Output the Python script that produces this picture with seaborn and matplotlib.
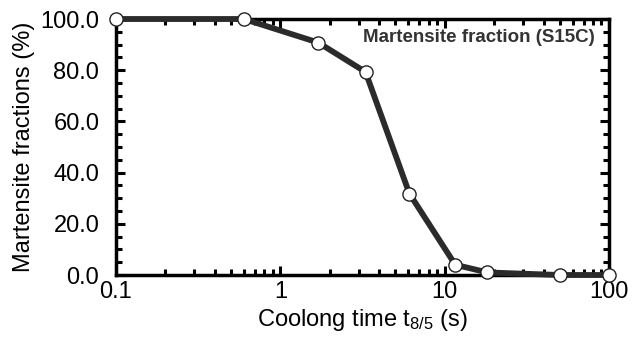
import matplotlib

matplotlib.use("Agg")

import matplotlib.pyplot as plt
import numpy as np
import pandas as pd
import seaborn as sns
from matplotlib.ticker import FixedLocator, LogLocator, NullFormatter, MultipleLocator

# Values
cooling_time = [0.1, 0.6, 1.7, 3.3, 6.1, 11.6, 18.2, 50.0, 100.0]
martensite_pct = [100.0, 100.0, 90.8, 79.3, 31.8, 4.0, 1.0, 0.0, 0.0]
x_ticks = [0.1, 1, 10, 100]
x_tick_labels = ["0.1", "1", "10", "100"]
y_ticks = [0, 20, 40, 60, 80, 100]
y_tick_labels = ["0.0", "20.0", "40.0", "60.0", "80.0", "100.0"]

sns.set_style("ticks")
plt.rcParams["font.family"] = ["Liberation Sans", "DejaVu Sans"]
plt.rcParams["mathtext.fontset"] = "custom"
plt.rcParams["mathtext.rm"] = "Liberation Sans"
plt.rcParams["mathtext.it"] = "Liberation Sans"

df = pd.DataFrame({"t": cooling_time, "m": martensite_pct})

fig = plt.figure(figsize=(6.37, 3.45), dpi=100)
ax = fig.add_axes([116 / 637, 1 - 275 / 345, (609 - 116) / 637, (275 - 19) / 345])

sns.lineplot(
    data=df, x="t", y="m", ax=ax,
    color="#2b2b2b", linewidth=4.2,
    marker="o", markersize=9.5,
    markerfacecolor="white", markeredgecolor="#222222", markeredgewidth=1.0,
    clip_on=False, zorder=5,
)

ax.set_xscale("log")
ax.set_xlim(0.1, 100)
ax.set_ylim(0, 100)
ax.xaxis.set_major_locator(FixedLocator(x_ticks))
ax.set_xticklabels(x_tick_labels)
ax.xaxis.set_minor_locator(LogLocator(base=10, subs=np.arange(2, 10)))
ax.xaxis.set_minor_formatter(NullFormatter())
ax.yaxis.set_major_locator(FixedLocator(y_ticks))
ax.set_yticklabels(y_tick_labels)
ax.yaxis.set_minor_locator(MultipleLocator(5))

for side in ["top", "right", "bottom", "left"]:
    ax.spines[side].set_visible(True)
    ax.spines[side].set_linewidth(2.5)
    ax.spines[side].set_color("black")

ax.tick_params(which="both", direction="in", top=True, right=True, width=2.2,
               colors="black", labelsize=17)
ax.tick_params(axis="y", which="major", pad=12)
ax.tick_params(axis="x", which="major", pad=4)
ax.tick_params(which="major", length=6.5)
ax.tick_params(which="minor", length=4)

ax.set_xlabel(r"Coolong time t$_{\mathregular{8/5}}$ (s)", fontsize=17, labelpad=3,
              color="black")
ax.set_ylabel("Martensite fractions (%)", fontsize=17, labelpad=4, color="black")

ax.text(0.972, 0.96, "Martensite fraction (S15C)", transform=ax.transAxes,
        ha="right", va="top", fontsize=13.5, fontweight="bold", color="#333333")

fig.savefig("out.png", dpi=100)
